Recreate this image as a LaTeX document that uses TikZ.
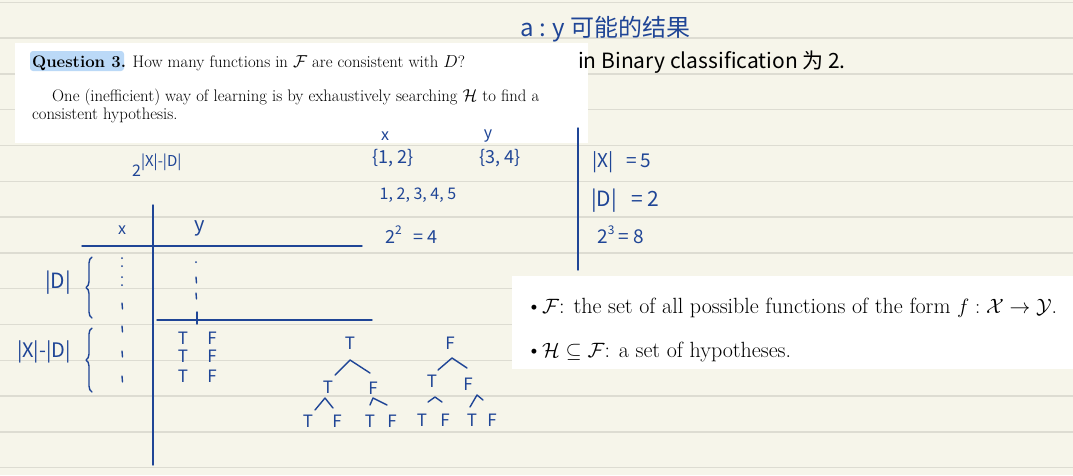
\documentclass[tikz,border=0pt]{standalone}
\usepackage{amsmath,amssymb}
\usepackage{fontspec}
\newfontfamily\hand{Noto Sans CJK SC}
\usetikzlibrary{decorations.pathreplacing}
\definecolor{paper}{HTML}{F6F5EA}
\definecolor{ruleline}{HTML}{DDDCD2}
\definecolor{ink}{HTML}{1F4596}
\definecolor{hl}{HTML}{BBD9F7}
\begin{document}
\begin{tikzpicture}[x=1pt,y=-1pt,
  inkline/.style={draw=ink, line width=1.4pt, line cap=round, line join=round},
  hw/.style={text=ink, font=\hand\fontsize{16}{16}\selectfont, inner sep=0pt},
  tf/.style={text=ink, font=\hand\fontsize{17}{17}\selectfont, inner sep=0pt},
  tx/.style={font=\fontsize{16.7}{20}\selectfont, inner sep=0pt, anchor=base west},
  bx/.style={font=\fontsize{22}{26}\selectfont, inner sep=0pt, anchor=base west}]
\fill[paper] (0,0) rectangle (1073,475);
\useasboundingbox (0,0) rectangle (1073,475);
\foreach \i in {0,...,13} {\draw[ruleline, line width=1.5pt] (0,{2.3+35.8*\i}) -- (1073,{2.3+35.8*\i});}
% printed boxes
\fill[white] (15,43) rectangle (588,143);
\fill[white] (512,276) rectangle (1073,369);
\fill[hl, rounded corners=3pt] (30,51) rectangle (124,71);
\node[tx] (q) at (32,67) {\textbf{Question 3.} How many functions in $\mathcal{F}$ are consistent with $D$?};
\node[tx] (l2) at (52,101) {One (inefficient) way of learning is by exhaustively searching $\mathcal{H}$ to find a};
\node[tx] (l3) at (32,119) {consistent hypothesis.};
\node[bx] (d1) at (526,313) {\textbullet};
\node[bx] (b1) at (542,313) {$\mathcal{F}$: the set of all possible functions of the form $f:\mathcal{X}\to\mathcal{Y}$.};
\node[bx] (d2) at (526,357) {\textbullet};
\node[bx] (b2) at (542,357) {$\mathcal{H}\subseteq\mathcal{F}$: a set of hypotheses.};
% handwriting top right
\node[hw, font=\hand\fontsize{24}{24}\selectfont, anchor=base west] (a) at (520,36) {a : y 可能的结果};
\node[hw, text=black, font=\hand\fontsize{21}{21}\selectfont, anchor=base west] (bin) at (578,68) {in Binary classification 为 2.};
% power
\node[hw, anchor=base west] (pow) at (132,176) {2\raisebox{10pt}{\fontsize{15}{15}\selectfont |X|-|D|}};
% examples
\node[hw] (xl) at (385,136) {x};
\node[hw] (yl) at (488,136) {y};
\node[hw, font=\hand\fontsize{18}{18}\selectfont] (xs) at (393,158) {\{1, 2\}};
\node[hw, font=\hand\fontsize{18}{18}\selectfont] (ys) at (500,158) {\{3, 4\}};
\node[hw] (nums) at (418,195) {1, 2, 3, 4, 5};
\node[hw, font=\hand\fontsize{18}{18}\selectfont, anchor=base west] (p4) at (385,243) {2\raisebox{9pt}{\fontsize{12}{12}\selectfont 2}\ \ \ = 4};
\draw[inkline] (578,128) -- (578,270);
\node[hw, font=\hand\fontsize{19}{19}\selectfont, anchor=base west] (cx) at (592,167) {|X| \ \ = 5};
\node[hw, font=\hand\fontsize{21}{21}\selectfont, anchor=base west] (cd) at (591,206) {|D| \ \ = 2};
\node[hw, font=\hand\fontsize{19}{19}\selectfont, anchor=base west] (c8) at (597,243) {2\raisebox{9pt}{\fontsize{12}{12}\selectfont 3}\ = 8};
% table
\draw[inkline] (153,205) -- (153,465);
\draw[inkline] (82,246) -- (362,246);
\draw[inkline] (157,320) -- (372,320);
\node[hw] (tx) at (122,230) {x};
\node[hw, font=\hand\fontsize{20}{20}\selectfont] (ty) at (200,228) {y};
\draw[inkline, decorate, decoration={brace, amplitude=6pt}] (92,318) -- (92,257);
\draw[inkline, decorate, decoration={brace, amplitude=6pt}] (92,392) -- (92,328);
\node[hw, font=\hand\fontsize{21}{21}\selectfont] (dl) at (58,283) {|D|};
\node[hw, font=\hand\fontsize{20}{20}\selectfont] (xdl) at (44,352) {|X|-|D|};
\foreach \y in {258,266,277,285} {\fill[ink] (122,\y) circle (1pt);}
\foreach \y in {303,326,351,376} {\draw[inkline] (122,\y) -- (122.5,\y+6);}
\fill[ink] (196,262) circle (1pt);
\foreach \y in {277,293} {\draw[inkline] (196,\y) -- (196.5,\y+6);}
\draw[inkline] (197,312) -- (197,324);
% T F rows
\foreach \y/\n in {338/1,356/2,376/3} {
  \node[tf] (rt\n) at (183,\y) {T};
  \node[tf] (rf\n) at (212,\y) {F};
}
% tree 1
\node[tf] (t1) at (350,343) {T};
\node[tf] (t1a) at (328,387) {T};
\node[tf] (t1b) at (373,388) {F};
\node[tf] (t1aa) at (308,421) {T};
\node[tf] (t1ab) at (337,421) {F};
\node[tf] (t1ba) at (370,421) {T};
\node[tf] (t1bb) at (392,421) {F};
\draw[inkline] (335,375) -- (350,360) -- (370,373);
\draw[inkline] (315,410) -- (325,398) -- (333,408);
\draw[inkline] (370,405) -- (373,398) -- (387,405);
% tree 2
\node[tf] (t2) at (450,343) {F};
\node[tf] (t2a) at (432,381) {T};
\node[tf] (t2b) at (468,384) {F};
\node[tf] (t2aa) at (422,420) {T};
\node[tf] (t2ab) at (445,420) {F};
\node[tf] (t2ba) at (472,420) {T};
\node[tf] (t2bb) at (492,420) {F};
\draw[inkline] (438,370) -- (452,358) -- (467,368);
\draw[inkline] (428,402) -- (435,397) -- (442,402);
\draw[inkline] (470,407) -- (477,395) -- (483,400);
\end{tikzpicture}
\end{document}
